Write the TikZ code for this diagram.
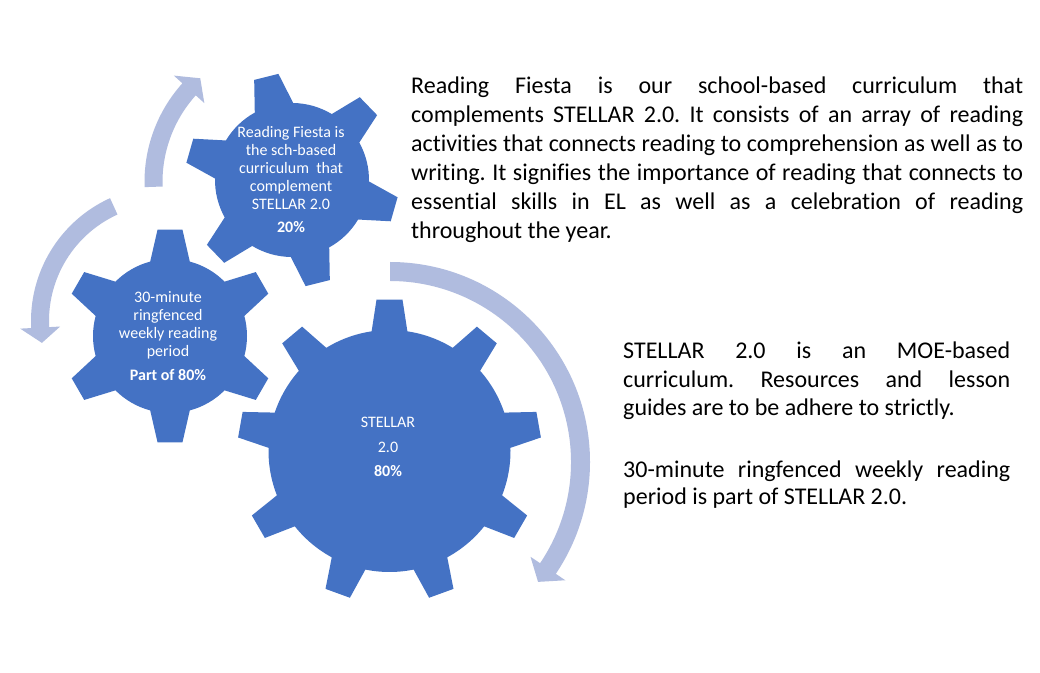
\documentclass[tikz,border=0pt]{standalone}
\usepackage{fontspec}
\setmainfont{Carlito}[Ligatures=NoCommon]
\frenchspacing
\definecolor{gearblue}{HTML}{4472C4}
\definecolor{arrowblue}{HTML}{B0BCDF}
\tikzset{
  gearfill/.style={fill=gearblue},
  arrowfill/.style={fill=arrowblue},
  geartext/.style={text=white, font=\fontsize{16}{17.8}\selectfont, align=center, inner sep=0pt},
  bodytext/.style={font=\fontsize{24}{28.8}\selectfont, anchor=base west, inner sep=0pt, text=black},
}
% #1 cx, #2 cy, #3 teeth, #4 body radius, #5 tip radius, #6 tip half angle, #7 base half angle, #8 rotation
\newcommand\drawgear[8]{%
  \fill[gearfill] ([shift={(#1,#2)}]{#8-#7}:#4)
  \foreach \i in {1,...,#3}{
    -- ([shift={(#1,#2)}]{#8-360/#3+\i*360/#3-#6}:#5)
    -- ([shift={(#1,#2)}]{#8-360/#3+\i*360/#3+#6}:#5)
    -- ([shift={(#1,#2)}]{#8-360/#3+\i*360/#3+#7}:#4)
    arc[start angle={#8-360/#3+\i*360/#3+#7}, end angle={#8+\i*360/#3-#7}, radius=#4]
  } -- cycle;}
% #1 cx, #2 cy, #3 mid radius, #4 half width, #5 start angle, #6 head base angle, #7 tip angle, #8 head half width
\newcommand\drawarrow[8]{%
  \fill[arrowfill] ([shift={(#1,#2)}]#5:{#3+#4})
    arc[start angle=#5, end angle=#6, radius={#3+#4}]
    -- ([shift={(#1,#2)}]#6:{#3+#8})
    -- ([shift={(#1,#2)}]#7:#3)
    -- ([shift={(#1,#2)}]#6:{#3-#8})
    -- ([shift={(#1,#2)}]#6:{#3-#4})
    arc[start angle=#6, end angle=#5, radius={#3-#4}] -- cycle;}
\begin{document}
\begin{tikzpicture}[x=1pt,y=1pt]
\useasboundingbox (0,0) rectangle (1040,672);
\fill[white] (0,0) rectangle (1040,672);
% arrows
\drawarrow{292}{490}{138.5}{9}{182}{138}{131.5}{20.5}
\drawarrow{166}{351}{126}{9}{114.5}{183}{190}{20}
\drawarrow{390}{210}{190.5}{9.5}{90}{-34}{-39}{21}
% gears
\drawgear{389.5}{221}{9}{121}{152}{4.9}{8.5}{90}
\drawgear{170}{336}{6}{77}{107}{6.7}{14.9}{90}
\drawgear{292}{492}{6}{77}{107}{6.7}{14.9}{104}
% gear texts
\node[geartext] (t2) at (291,492) {Reading Fiesta is\\the sch-based\\curriculum~ that\\complement\\STELLAR 2.0\\[6pt]\textbf{20\%}};
\node[geartext] (t1) at (168,336) {30-minute\\ringfenced\\weekly reading\\period\\[6pt]\textbf{Part of 80\%}};
\node[geartext, font=\fontsize{16}{24.5}\selectfont] (t3) at (388,225) {STELLAR\\2.0\\\textbf{80\%}};
% right paragraph 1
\node[bodytext] (p1a) at (411,578) {\makebox[612pt][s]{Reading Fiesta is our school-based curriculum that}};
\node[bodytext] (p1b) at (411,549) {\makebox[612pt][s]{complements STELLAR 2.0. It consists of an array of reading}};
\node[bodytext] (p1c) at (411,520) {\makebox[612pt][s]{activities that connects reading to comprehension as well as to}};
\node[bodytext] (p1d) at (411,491) {\makebox[612pt][s]{writing. It signifies the importance of reading that connects to}};
\node[bodytext] (p1e) at (411,462) {\makebox[612pt][s]{essential skills in EL as well as a celebration of reading}};
\node[bodytext] (p1f) at (411,433) {throughout the year.};
% right paragraph 2
\node[bodytext] (p2a) at (623,313) {\makebox[387pt][s]{STELLAR 2.0 is an MOE-based}};
\node[bodytext] (p2b) at (623,284) {\makebox[387pt][s]{curriculum. Resources and lesson}};
\node[bodytext] (p2c) at (623,256) {guides are to be adhere to strictly.};
\node[bodytext] (p2d) at (623,195) {\makebox[387pt][s]{30-minute ringfenced weekly reading}};
\node[bodytext] (p2e) at (623,168) {period is part of STELLAR 2.0.};
\end{tikzpicture}
\end{document}
